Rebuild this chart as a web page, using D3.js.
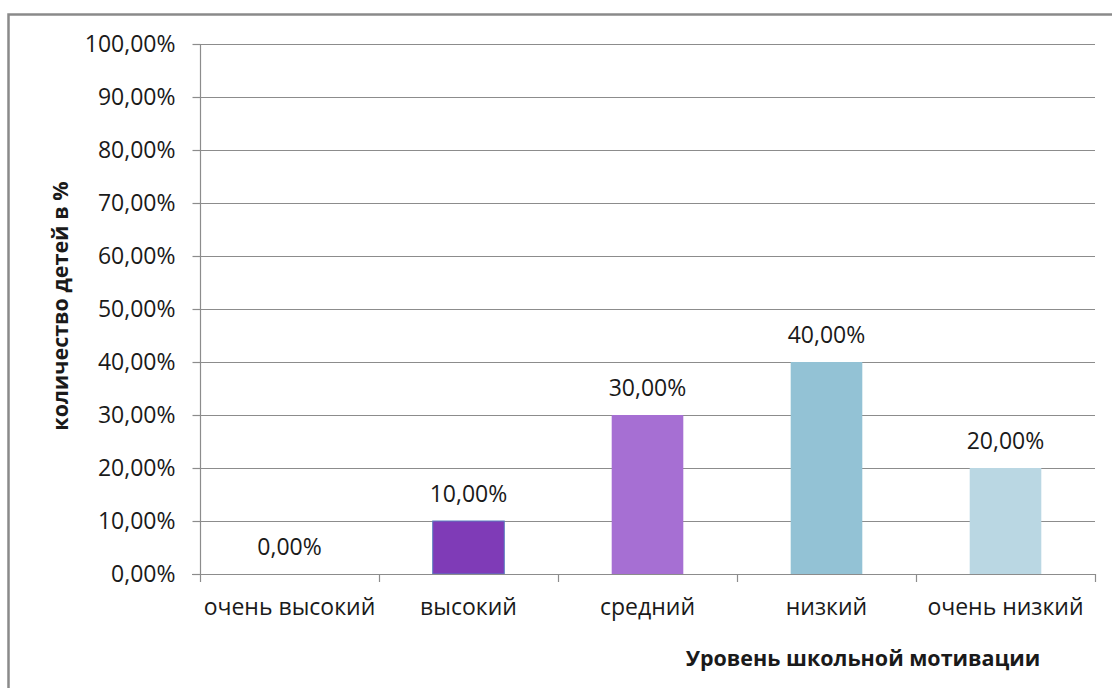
<!DOCTYPE html>
<html>
<head>
<meta charset="utf-8">
<script src="https://cdn.jsdelivr.net/npm/d3@7"></script>
<style>
  html, body { margin: 0; padding: 0; background: #fff; }
  svg { display: block; }
  text { font-family: "Open Sans", "DejaVu Sans", sans-serif; fill: #1a1a1a; }
</style>
</head>
<body>
<svg id="chart" width="1112" height="688"></svg>
<script>
// Motivation levels and share of children at each level
const categories = ["очень высокий", "высокий", "средний", "низкий", "очень низкий"];
const values = [0, 0.10, 0.30, 0.40, 0.20];
const barColors = ["#7f3bb7", "#7f3bb7", "#a66fd3", "#93c2d5", "#bad7e3"];
const yTicks = [0, 0.1, 0.2, 0.3, 0.4, 0.5, 0.6, 0.7, 0.8, 0.9, 1.0];
const xTitle = "Уровень школьной мотивации";
const yTitle = "количество детей в %";

const svg = d3.select("#chart");
const labelSize = 23;

// outer chart frame
svg.append("rect")
  .attr("x", 8.5).attr("y", 14.5)
  .attr("width", 1120).attr("height", 700)
  .attr("fill", "none").attr("stroke", "#8a8a8a").attr("stroke-width", 2.5);

const plot = { left: 200, right: 1095, top: 44, bottom: 574 };

const x = d3.scaleBand()
  .domain(categories)
  .range([plot.left, plot.right])
  .paddingInner(0.6)
  .paddingOuter(0.3);

const y = d3.scaleLinear()
  .domain([0, 1])
  .range([plot.bottom, plot.top]);

const fmt = v => d3.format(".2f")(v * 100).replace(".", ",") + "%";

// horizontal gridlines
svg.append("g")
  .selectAll("line")
  .data(yTicks.filter(d => d > 0))
  .join("line")
  .attr("x1", plot.left).attr("x2", plot.right)
  .attr("y1", d => Math.round(y(d)) + 0.5).attr("y2", d => Math.round(y(d)) + 0.5)
  .attr("stroke", "#8c8c8c").attr("stroke-width", 1.2);

// y axis
const yAxis = svg.append("g")
  .attr("transform", `translate(${plot.left + 0.5},0)`)
  .call(d3.axisLeft(y).tickValues(yTicks).tickFormat(fmt).tickSize(8).tickPadding(17));
yAxis.select(".domain").attr("stroke", "#8c8c8c").attr("stroke-width", 1.2)
  .attr("d", `M0,${plot.top}V${plot.bottom}`);
yAxis.selectAll(".tick line").attr("stroke", "#8c8c8c").attr("stroke-width", 1.2);
yAxis.selectAll(".tick text")
  .style("font-family", "'Open Sans', sans-serif")
  .attr("font-size", labelSize).attr("fill", "#1a1a1a");

// bars
svg.append("g")
  .selectAll("rect")
  .data(categories.map((c, i) => ({ c, v: values[i], color: barColors[i] })))
  .join("rect")
  .attr("x", d => x(d.c))
  .attr("y", d => y(d.v))
  .attr("width", x.bandwidth())
  .attr("height", d => y(0) - y(d.v))
  .attr("fill", d => d.color)
  .attr("stroke", (d, i) => i === 1 ? "#5a7fc0" : "none")
  .attr("stroke-width", 1);

// x axis baseline with category dividers
const xAxisG = svg.append("g");
xAxisG.append("line")
  .attr("x1", plot.left - 8).attr("x2", plot.right)
  .attr("y1", plot.bottom + 0.5).attr("y2", plot.bottom + 0.5)
  .attr("stroke", "#8c8c8c").attr("stroke-width", 1.2);
const step = x.step();
const dividers = categories.map(c => x(c) - (step - x.bandwidth()) / 2);
dividers.push(plot.right);
xAxisG.selectAll("line.div")
  .data(dividers)
  .join("line")
  .attr("class", "div")
  .attr("x1", d => Math.round(d) + 0.5).attr("x2", d => Math.round(d) + 0.5)
  .attr("y1", plot.bottom).attr("y2", plot.bottom + 8)
  .attr("stroke", "#8c8c8c").attr("stroke-width", 1.2);

// category labels
svg.append("g")
  .selectAll("text")
  .data(categories)
  .join("text")
  .attr("x", d => x(d) + x.bandwidth() / 2)
  .attr("y", 615)
  .attr("text-anchor", "middle")
  .attr("font-size", labelSize)
  .text(d => d);

// value labels
svg.append("g")
  .selectAll("text")
  .data(categories.map((c, i) => ({ c, v: values[i] })))
  .join("text")
  .attr("x", d => x(d.c) + x.bandwidth() / 2)
  .attr("y", d => y(d.v) - 19)
  .attr("text-anchor", "middle")
  .attr("font-size", labelSize)
  .text(d => fmt(d.v));

// axis titles
svg.append("text")
  .attr("x", 863).attr("y", 666)
  .attr("text-anchor", "middle")
  .attr("font-size", 21.5).attr("font-weight", "bold")
  .text(xTitle);

svg.append("text")
  .attr("transform", "translate(68,306) rotate(-90)")
  .attr("text-anchor", "middle")
  .attr("font-size", 21.5).attr("font-weight", "bold")
  .text(yTitle);
</script>
</body>
</html>
